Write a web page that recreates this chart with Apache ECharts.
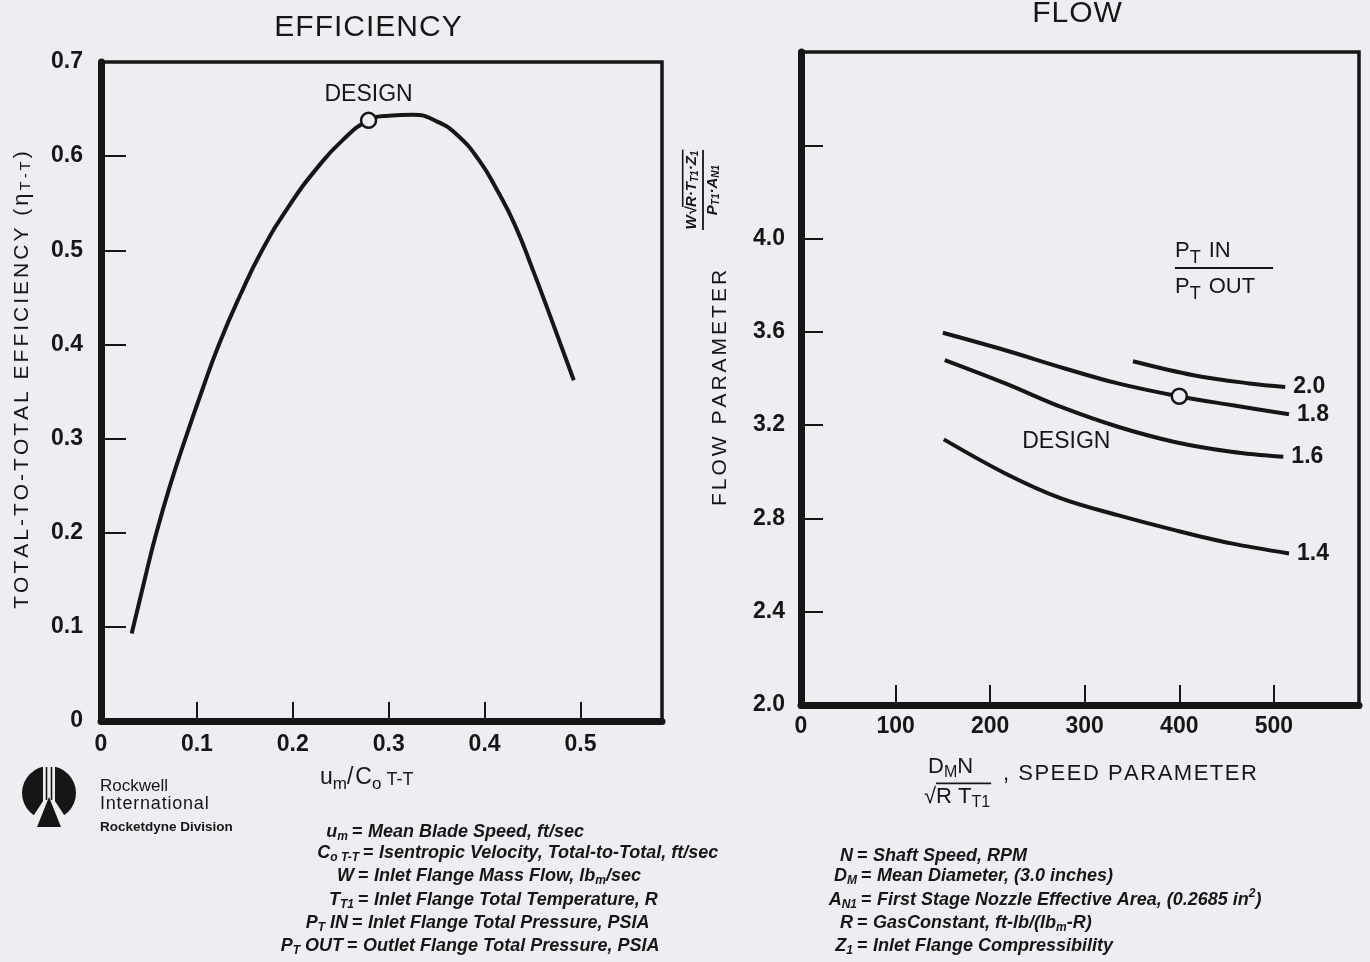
<!DOCTYPE html>
<html><head><meta charset="utf-8">
<script src="https://cdn.jsdelivr.net/npm/echarts@6/dist/echarts.min.js"></script>
<style>html,body{margin:0;padding:0;background:#edeef2}#c{width:1370px;height:962px}</style>
</head><body><div id="c"></div>
<script>
// ---------- DATA ----------
// Efficiency panel: u_m/C_o T-T vs total-to-total efficiency
const effU   = [0.032,0.045,0.057,0.072,0.088,0.105,0.123,0.145,0.168,0.196,0.225,0.252,0.279,0.300,0.325,0.350,0.372,0.394,0.413,0.432,0.450,0.467,0.493];
const effEta = [0.093,0.148,0.197,0.250,0.300,0.350,0.400,0.452,0.500,0.547,0.587,0.617,0.638,0.643,0.644,0.637,0.622,0.596,0.564,0.526,0.480,0.434,0.362];
const effDesign = [0.279, 0.638];
const effXTicks = ['0','0.1','0.2','0.3','0.4','0.5'];
const effYTicks = ['0','0.1','0.2','0.3','0.4','0.5','0.6','0.7'];

// Flow panel: speed parameter vs flow parameter, one curve per PT IN / PT OUT
const ratioNames = ['2.0','1.8','1.6','1.4'];
const speed20 = [351,415,474,512];
const flow20  = [3.474,3.414,3.379,3.364];
const speed18 = [150,216,279,335,399,455,516];
const flow18  = [3.596,3.521,3.443,3.379,3.324,3.286,3.247];
const speed16 = [152,216,275,335,395,455,510];
const flow16  = [3.479,3.379,3.278,3.193,3.128,3.086,3.064];
const speed14 = [151,216,275,335,395,455,516];
const flow14  = [3.139,2.993,2.886,2.814,2.750,2.693,2.650];
const flowDesign = [400, 3.324];
const flowXTicks = ['0','100','200','300','400','500'];
const flowYTicks = ['2.0','2.4','2.8','3.2','3.6','4.0'];

// ---------- STYLE ----------
const ink = '#161616';
const bg = '#edeef2';
const FF = "'Liberation Sans', Arial, Helvetica, sans-serif";
const mctx = document.createElement('canvas').getContext('2d');
function fstr(s){ return (s.it?'italic ':'') + (s.b?'bold ':'') + s.size + 'px ' + FF; }
function mw(t,s){ mctx.font = fstr(s); return mctx.measureText(t).width; }
// build a line of text made of runs (with subscripts) as a group
function line(x, y, parts, o){
  o = o || {};
  const ls = o.ls || 0;
  const children = [];
  let cx = 0, overStart = null;
  parts.forEach(function(p, pi){
    const s = {size: p.size || o.size, b: (p.b !== undefined ? p.b : o.b), it: (p.it !== undefined ? p.it : o.it)};
    if (o.overFrom === pi) overStart = cx;
    const chunks = ls ? Array.from(p.t) : [p.t];
    chunks.forEach(function(ch){
      children.push({type:'text', x:cx, y:(p.dy||0), style:{text:ch, font:fstr(s), fill:ink, align:'left', verticalAlign:'middle'}});
      cx += mw(ch, s) + ls;
    });
    if (p.gap) cx += p.gap;
  });
  const total = cx - ls;
  if (overStart !== null){
    children.push({type:'line', shape:{x1:overStart, y1:-o.size*0.62, x2:total+1, y2:-o.size*0.62}, style:{stroke:ink, lineWidth:1.6}});
  }
  const off = o.align === 'center' ? -total/2 : (o.align === 'right' ? -total : 0);
  children.forEach(function(c){ if (c.type === 'text') c.x += off; else { c.shape.x1 += off; c.shape.x2 += off; } });
  return {type:'group', x:x, y:y, rotation:o.rot||0, silent:true, children:children};
}

const graphics = [];
// titles
graphics.push(line(368, 28, [{t:'EFFICIENCY'}], {size:30, align:'center', ls:1}));
graphics.push(line(1077, 14, [{t:'FLOW'}], {size:30, align:'center', ls:1}));
// left y title
graphics.push(line(22, 380, [{t:'TOTAL-TO-TOTAL EFFICIENCY ('},{t:'η', size:22},{t:'T-T', size:15, dy:4},{t:')'}], {size:21, ls:3, align:'center', rot:Math.PI/2}));
// right y title
graphics.push(line(720, 388, [{t:'FLOW PARAMETER'}], {size:21, ls:3, align:'center', rot:Math.PI/2}));
// flow parameter formula
graphics.push({type:'group', x:703, y:190, rotation:Math.PI/2, silent:true, children:[
  line(0, -11, [{t:'W'},{t:'√'},{t:'R·T'},{t:'T1', size:10, dy:3},{t:'·Z'},{t:'1', size:10, dy:3}], {size:15, b:true, it:true, align:'center', overFrom:2}),
  {type:'line', shape:{x1:-40, y1:0, x2:40, y2:0}, style:{stroke:ink, lineWidth:1.8}},
  line(0, 10, [{t:'P'},{t:'T1', size:10, dy:3},{t:'·A'},{t:'N1', size:10, dy:3}], {size:15, b:true, it:true, align:'center'})
]});
// left x title
graphics.push(line(320, 778, [{t:'u'},{t:'m', size:17, dy:6},{t:'/', gap:2},{t:'C'},{t:'o', size:17, dy:6},{t:' T-T', size:18, dy:2}], {size:23}));
// right x title
graphics.push(line(928, 767, [{t:'D'},{t:'M', size:16, dy:6},{t:'N'}], {size:22}));
graphics.push(line(924, 797, [{t:'√'},{t:'R T'},{t:'T1', size:16, dy:6}], {size:22, overFrom:1}));
graphics.push(line(1003, 774, [{t:', SPEED PARAMETER'}], {size:22, ls:1.5}));
// pressure ratio header
graphics.push(line(1175, 251, [{t:'P'},{t:'T', size:18, dy:7, gap:8},{t:'IN'}], {size:22}));
graphics.push({type:'line', silent:true, shape:{x1:1175, y1:268, x2:1273, y2:268}, style:{stroke:ink, lineWidth:2}});
graphics.push(line(1175, 287, [{t:'P'},{t:'T', size:18, dy:7, gap:8},{t:'OUT'}], {size:22}));

// definitions
const defs = [
  [832, 357, [{t:'u'},{t:'m', size:12, dy:5}], [{t:'Mean Blade Speed, ft/sec'}]],
  [853, 368, [{t:'C'},{t:'o T-T', size:12, dy:5}], [{t:'Isentropic Velocity, Total-to-Total, ft/sec'}]],
  [876, 363, [{t:'W'}], [{t:'Inlet Flange Mass Flow, lb'},{t:'m', size:12, dy:5},{t:'/sec'}]],
  [900, 363, [{t:'T'},{t:'T1', size:12, dy:5}], [{t:'Inlet Flange Total Temperature, R'}]],
  [923, 357, [{t:'P'},{t:'T', size:12, dy:5},{t:' IN'}], [{t:'Inlet Flange Total Pressure, PSIA'}]],
  [946, 352, [{t:'P'},{t:'T', size:12, dy:5},{t:' OUT'}], [{t:'Outlet Flange Total Pressure, PSIA'}]],
  [856, 862, [{t:'N'}], [{t:'Shaft Speed, RPM'}]],
  [876, 866, [{t:'D'},{t:'M', size:12, dy:5}], [{t:'Mean Diameter, (3.0 inches)'}]],
  [900, 866, [{t:'A'},{t:'N1', size:12, dy:5}], [{t:'First Stage Nozzle Effective Area, (0.2685 in'},{t:'2', size:12, dy:-6},{t:')'}]],
  [923, 862, [{t:'R'}], [{t:'GasConstant, ft-lb/(lb'},{t:'m', size:12, dy:5},{t:'-R)'}]],
  [946, 862, [{t:'Z'},{t:'1', size:12, dy:5}], [{t:'Inlet Flange Compressibility'}]]
];
defs.forEach(function(d){
  const st = {size:18, b:true, it:true};
  graphics.push(line(d[1]-9, d[0], d[2], Object.assign({align:'right'}, st)));
  graphics.push(line(d[1], d[0], [{t:'='}], Object.assign({align:'center'}, st)));
  graphics.push(line(d[1]+11, d[0], d[3], st));
});

// Rockwell logo
graphics.push({type:'group', silent:true, children:[
  {type:'circle', shape:{cx:49, cy:793, r:27}, style:{fill:ink}},
  {type:'rect', shape:{x:43, y:764, width:12, height:40}, style:{fill:bg}},
  {type:'polygon', shape:{points:[[49,792],[28,824],[70,824]]}, style:{fill:bg}},
  {type:'line', shape:{x1:46.5, y1:767, x2:46.5, y2:800}, style:{stroke:ink, lineWidth:1.6}},
  {type:'line', shape:{x1:51.5, y1:767, x2:51.5, y2:800}, style:{stroke:ink, lineWidth:1.6}},
  {type:'polygon', shape:{points:[[49,797],[37,827],[61,827]]}, style:{fill:ink}}
]});
graphics.push(line(100, 786, [{t:'Rockwell'}], {size:17}));
graphics.push(line(100, 804, [{t:'International'}], {size:18, ls:0.8}));
graphics.push(line(100, 827, [{t:'Rocketdyne Division'}], {size:13.5, b:true}));

function pairs(xs, ys){ return xs.map(function(x,i){ return [x, ys[i]]; }); }
function labelFrom(arr, base, step){ return function(v){ const i = Math.round((v-base)/step); return (Math.abs(v - (base+i*step)) < 1e-6 && arr[i] !== undefined) ? arr[i] : ''; }; }

const axisCommon = {
  type:'value',
  splitLine:{show:false},
  axisLine:{show:true, onZero:false, lineStyle:{color:ink, width:7}},
  axisTick:{show:true, inside:true, lineStyle:{color:ink, width:2}}
};
const lab = {color:ink, fontFamily:FF, fontSize:23, fontWeight:'bold', showMaxLabel:false};

const curveStyle = {color:ink, width:4};
function flowSeries(name, xs, ys){
  return {type:'line', name:name, xAxisIndex:1, yAxisIndex:1, data:pairs(xs, ys), smooth:0.35, showSymbol:false, symbol:'none',
    lineStyle:curveStyle, itemStyle:{color:ink}, z:3,
    endLabel:{show:true, formatter:'{a}', color:ink, fontFamily:FF, fontSize:23, fontWeight:'bold', distance:8}};
}

const option = {
  backgroundColor:bg,
  animation:false,
  grid:[
    {left:101, top:62, width:561, height:659, show:true, borderColor:ink, borderWidth:3.5, backgroundColor:'transparent'},
    {left:801, top:52, width:558, height:653, show:true, borderColor:ink, borderWidth:3.5, backgroundColor:'transparent'}
  ],
  xAxis:[
    Object.assign({}, axisCommon, {gridIndex:0, min:0, max:0.585, interval:0.1,
      axisTick:{show:true, inside:true, length:19, lineStyle:{color:ink, width:2}},
      axisLabel:Object.assign({}, lab, {margin:12, formatter:labelFrom(effXTicks, 0, 0.1)})}),
    Object.assign({}, axisCommon, {gridIndex:1, min:0, max:590, interval:100,
      axisTick:{show:true, inside:true, length:20, lineStyle:{color:ink, width:2}},
      axisLabel:Object.assign({}, lab, {margin:10, formatter:labelFrom(flowXTicks, 0, 100)})})
  ],
  yAxis:[
    Object.assign({}, axisCommon, {gridIndex:0, min:0, max:0.7, interval:0.1,
      axisTick:{show:true, inside:true, length:25, lineStyle:{color:ink, width:2}},
      axisLabel:Object.assign({}, lab, {margin:18, showMaxLabel:true, formatter:labelFrom(effYTicks, 0, 0.1)})}),
    Object.assign({}, axisCommon, {gridIndex:1, min:2.0, max:4.8, interval:0.4,
      axisTick:{show:true, inside:true, length:22, lineStyle:{color:ink, width:2}},
      axisLabel:Object.assign({}, lab, {margin:16, formatter:labelFrom(flowYTicks, 2.0, 0.4)})})
  ],
  series:[
    {type:'line', xAxisIndex:0, yAxisIndex:0, data:pairs(effU, effEta), smooth:0.5, showSymbol:false, symbol:'none', lineStyle:curveStyle, z:3},
    {type:'scatter', xAxisIndex:0, yAxisIndex:0, data:[effDesign], symbol:'circle', symbolSize:15,
      itemStyle:{color:bg, borderColor:ink, borderWidth:2.5, opacity:1}, z:5,
      label:{show:true, formatter:'DESIGN', position:'top', distance:5, color:ink, fontFamily:FF, fontSize:23}},
    flowSeries(ratioNames[0], speed20, flow20),
    flowSeries(ratioNames[1], speed18, flow18),
    flowSeries(ratioNames[2], speed16, flow16),
    flowSeries(ratioNames[3], speed14, flow14),
    {type:'scatter', xAxisIndex:1, yAxisIndex:1, data:[flowDesign], symbol:'circle', symbolSize:15,
      itemStyle:{color:bg, borderColor:ink, borderWidth:2.5, opacity:1}, z:5,
      label:{show:true, formatter:'DESIGN', position:'inside', offset:[-113, 45], color:ink, fontFamily:FF, fontSize:23}}
  ],
  graphic:graphics
};
const chart = echarts.init(document.getElementById('c'), null, {renderer:'canvas'});
chart.setOption(option);
</script>
</body></html>
